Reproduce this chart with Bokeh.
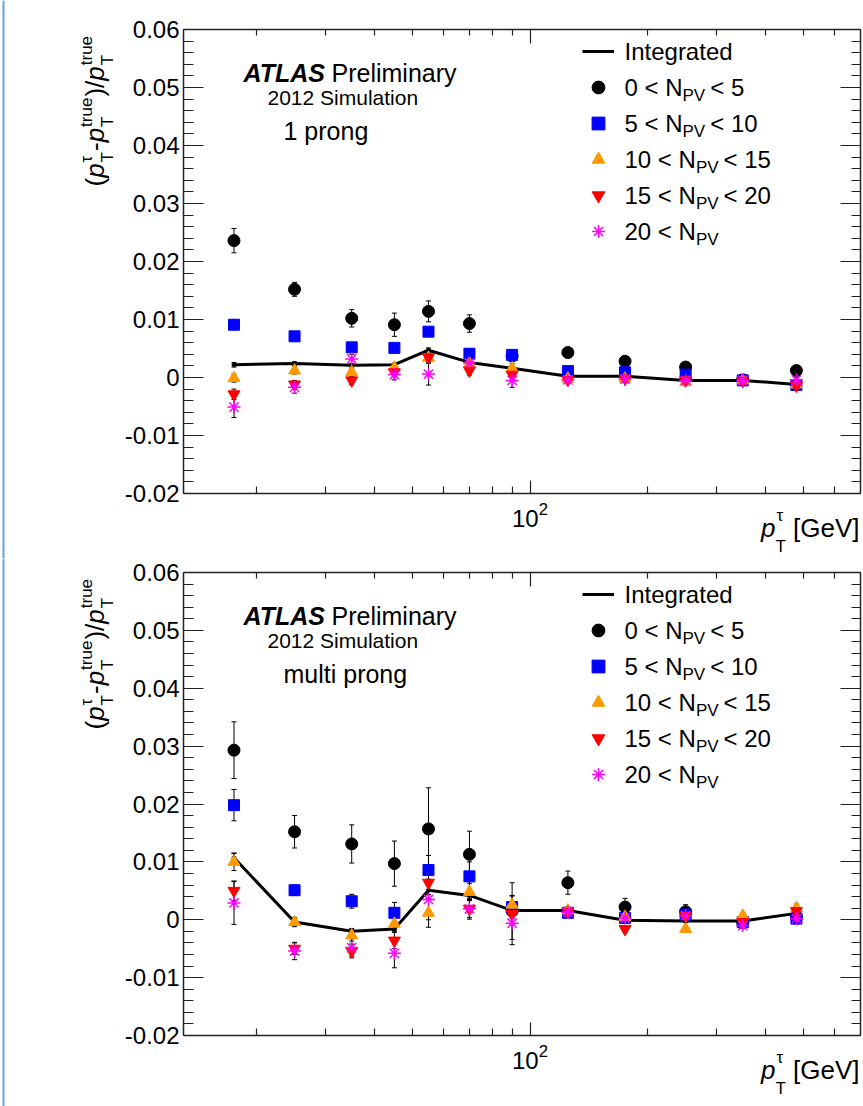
import math
from bokeh.plotting import figure
from bokeh.models import (ColumnDataSource, Whisker, TeeHead, FixedTicker, LinearAxis,
                          LogAxis, Label, Legend, LegendItem, Range1d, Span)
from bokeh.layouts import column
from bokeh.embed import file_html
from bokeh.resources import INLINE

# ---------------- data ----------------
pt_centers = [17.5, 25, 35, 45, 55, 70, 90, 125, 175, 250, 350, 480]

# 1 prong
one_integrated = [0.0022, 0.0024, 0.0021, 0.0022, 0.0047, 0.0026, 0.0016, 0.0002, 0.0002, -0.0005, -0.0005, -0.0012]
one_integrated_err = [0.0004, 0.0003, 0.0003, 0.0003, 0.0004, 0.0004, 0.0004, 0.0002, 0.0002, 0.0001, 0.0001, 0.0002]
one_npv_0_5 = [0.0236, 0.0152, 0.0102, 0.0091, 0.0114, 0.0093, 0.0037, 0.0043, 0.0028, 0.0018, -0.0004, 0.0012]
one_npv_0_5_err = [0.0021, 0.0012, 0.0015, 0.0020, 0.0018, 0.0015, 0.0008, 0.0006, 0.0004, 0.0003, 0.0003, 0.0004]
one_npv_5_10 = [0.0091, 0.0071, 0.0052, 0.0051, 0.0079, 0.0041, 0.0039, 0.0011, 0.0009, 0.0005, -0.0005, -0.0013]
one_npv_5_10_err = [0.0008, 0.0005, 0.0006, 0.0006, 0.0007, 0.0007, 0.0008, 0.0004, 0.0003, 0.0002, 0.0002, 0.0003]
one_npv_10_15 = [-0.0001, 0.0012, 0.0009, 0.0017, 0.0034, 0.0024, 0.0016, -0.0002, -0.0002, -0.0008, -0.0005, -0.0012]
one_npv_10_15_err = [0.0007, 0.0006, 0.0006, 0.0006, 0.0009, 0.0008, 0.0008, 0.0004, 0.0003, 0.0002, 0.0002, 0.0003]
one_npv_15_20 = [-0.0029, -0.0012, -0.0005, 0.0009, 0.0035, 0.0012, 0.0005, -0.0004, -0.0002, -0.0005, -0.0006, -0.0014]
one_npv_15_20_err = [0.0009, 0.0007, 0.0007, 0.0007, 0.0009, 0.0008, 0.0009, 0.0004, 0.0003, 0.0002, 0.0002, 0.0003]
one_npv_20 = [-0.0051, -0.0017, 0.0032, 0.0005, 0.0006, 0.0025, -0.0005, -0.0004, -0.0003, -0.0005, -0.0005, -0.0004]
one_npv_20_err = [0.0018, 0.0010, 0.0008, 0.0009, 0.0019, 0.0010, 0.0012, 0.0005, 0.0004, 0.0003, 0.0003, 0.0004]

# multi prong
multi_integrated = [0.0107, -0.0004, -0.0020, -0.0016, 0.0051, 0.0042, 0.0016, 0.0016, -0.0001, -0.0002, -0.0002, 0.0011]
multi_integrated_err = [0.0008, 0.0005, 0.0005, 0.0005, 0.0008, 0.0007, 0.0008, 0.0004, 0.0003, 0.0003, 0.0003, 0.0004]
multi_npv_0_5 = [0.0293, 0.0152, 0.0131, 0.0097, 0.0157, 0.0113, 0.0015, 0.0064, 0.0022, 0.0014, -0.0005, 0.0005]
multi_npv_0_5_err = [0.0049, 0.0028, 0.0033, 0.0039, 0.0071, 0.0040, 0.0049, 0.0020, 0.0015, 0.0012, 0.0010, 0.0012]
multi_npv_5_10 = [0.0198, 0.0051, 0.0032, 0.0012, 0.0086, 0.0075, 0.0022, 0.0012, 0.0003, 0.0009, -0.0004, 0.0002]
multi_npv_5_10_err = [0.0027, 0.0009, 0.0012, 0.0018, 0.0025, 0.0025, 0.0020, 0.0008, 0.0006, 0.0005, 0.0005, 0.0007]
multi_npv_10_15 = [0.0100, -0.0004, -0.0027, -0.0007, 0.0012, 0.0048, 0.0026, 0.0016, 0.0005, -0.0016, 0.0007, 0.0020]
multi_npv_10_15_err = [0.0015, 0.0008, 0.0010, 0.0012, 0.0025, 0.0015, 0.0015, 0.0007, 0.0006, 0.0005, 0.0005, 0.0007]
multi_npv_15_20 = [0.0050, -0.0050, -0.0054, -0.0036, 0.0064, 0.0019, 0.0010, 0.0014, -0.0016, 0.0007, -0.0004, 0.0015]
multi_npv_15_20_err = [0.0017, 0.0010, 0.0012, 0.0014, 0.0020, 0.0015, 0.0018, 0.0007, 0.0006, 0.0005, 0.0005, 0.0008]
multi_npv_20 = [0.0029, -0.0054, -0.0048, -0.0058, 0.0035, 0.0019, -0.0006, 0.0013, 0.0003, 0.0007, -0.0010, 0.0002]
multi_npv_20_err = [0.0037, 0.0015, 0.0015, 0.0025, 0.0035, 0.0018, 0.0037, 0.0008, 0.0006, 0.0005, 0.0005, 0.0009]

panel_titles = ["1 prong", "multi prong"]
legend_integrated = "Integrated"
legend_pre = ["0 < N", "5 < N", "10 < N", "15 < N", "20 < N"]
legend_sub = "PV"
legend_post = ["< 5", "< 10", "< 15", "< 20", ""]
series_colors = ["#000000", "#0000ff", "#ff9900", "#ff0000", "#ff00ff"]
series_markers = ["circle", "square", "triangle", "inverted_triangle", "asterisk"]

y_ticks = [-0.02, -0.01, 0.0, 0.01, 0.02, 0.03, 0.04, 0.05, 0.06]
y_tick_labels = ["-0.02", "-0.01", "0", "0.01", "0.02", "0.03", "0.04", "0.05", "0.06"]
y_minor_step = 0.002
x_major = [100]
x_minor = [20, 30, 40, 50, 60, 70, 80, 90, 200, 300, 400, 500, 600]
X_RANGE = (13, 700)
Y_RANGE = (-0.02, 0.06)

panel_series = [
    dict(integ=one_integrated, integ_err=one_integrated_err,
         series=[(one_npv_0_5, one_npv_0_5_err), (one_npv_5_10, one_npv_5_10_err),
                 (one_npv_10_15, one_npv_10_15_err), (one_npv_15_20, one_npv_15_20_err),
                 (one_npv_20, one_npv_20_err)]),
    dict(integ=multi_integrated, integ_err=multi_integrated_err,
         series=[(multi_npv_0_5, multi_npv_0_5_err), (multi_npv_5_10, multi_npv_5_10_err),
                 (multi_npv_10_15, multi_npv_10_15_err), (multi_npv_15_20, multi_npv_15_20_err),
                 (multi_npv_20, multi_npv_20_err)]),
]

# ---------------- layout / style ----------------
FONT = "Liberation Sans"
FIG_W = 863
IL, IW = 183, 677            # inner (axes box) left and width, px
panel_geom = [dict(h=558, it=29, ih=464), dict(h=548, it=14, ih=463)]
AXC = "#222222"
MID = 0.35                   # baseline -> middle offset (em)
EDGE_X = 3                   # thin blue page-edge line of the original screenshot

# Arial / Liberation Sans advance widths (em)
CW = {' ': .278, '<': .584, 'N': .722, 'P': .667, 'V': .667, '(': .333, ')': .333, '-': .333,
      '/': .278, 'p': .556, 't': .278, 'r': .333, 'u': .556, 'e': .556, 'T': .611, '\u03c4': .45,
      '[': .278, ']': .278, 'G': .778}
for d in "0123456789":
    CW[d] = .556


def tw(s, size):
    return sum(CW.get(c, .556) for c in s) * size


def style_axis(ax, major_in, minor_in, labels):
    ax.major_tick_in = major_in
    ax.major_tick_out = 0
    ax.minor_tick_in = minor_in
    ax.minor_tick_out = 0
    ax.axis_line_color = AXC
    ax.axis_line_width = 1.5
    ax.major_tick_line_color = AXC
    ax.minor_tick_line_color = AXC
    ax.major_tick_line_width = 1.2
    ax.minor_tick_line_width = 1.2
    if labels:
        ax.major_label_text_font = FONT
        ax.major_label_text_font_size = "24px"
        ax.major_label_text_color = "#000000"
    else:
        ax.major_label_text_font_size = "1px"
        ax.major_label_text_color = None
        ax.major_label_standoff = 0


def make_panel(idx):
    g = panel_geom[idx]
    H, IT, IH = g["h"], g["it"], g["ih"]
    lx0, lx1 = math.log10(X_RANGE[0]), math.log10(X_RANGE[1])
    kx = (lx1 - lx0) / IW
    ky = (Y_RANGE[1] - Y_RANGE[0]) / IH

    def X(px):
        return 10 ** (lx0 + (px - IL) * kx)

    def Y(py):
        return Y_RANGE[1] - (py - IT) * ky

    p = figure(width=FIG_W, height=H, x_axis_type="log",
               x_range=Range1d(X(0), X(FIG_W)), y_range=Range1d(Y(H), Y(0)),
               output_backend="svg", toolbar_location=None,
               min_border=0, min_border_left=0, min_border_right=0,
               min_border_top=0, min_border_bottom=0,
               background_fill_color="white", border_fill_color="white",
               outline_line_color=None)
    p.grid.visible = False

    p.add_layout(Span(location=X(EDGE_X), dimension="height", line_color="#6f9fd6",
                      line_width=2))

    # axes (drawn as a box around the data range)
    y_minor = [round(Y_RANGE[0] + y_minor_step * i, 4)
               for i in range(int(round((Y_RANGE[1] - Y_RANGE[0]) / y_minor_step)) + 1)]
    yl = p.left[0]
    yl.ticker = FixedTicker(ticks=y_ticks, minor_ticks=y_minor)
    yl.major_label_overrides = {v: s for v, s in zip(y_ticks, y_tick_labels)}
    yl.fixed_location = X_RANGE[0]
    yl.bounds = Y_RANGE
    style_axis(yl, 20, 10, True)
    yl.major_label_standoff = 4
    xb = p.below[0]
    xb.ticker = FixedTicker(ticks=x_major, minor_ticks=x_minor)
    xb.fixed_location = Y_RANGE[0]
    xb.bounds = X_RANGE
    style_axis(xb, 13, 7, True)
    xb.major_label_standoff = 8

    yr = LinearAxis(ticker=FixedTicker(ticks=y_ticks, minor_ticks=y_minor),
                    fixed_location=X_RANGE[1], bounds=Y_RANGE)
    style_axis(yr, 20, 9, False)
    p.add_layout(yr, "right")
    xa = LogAxis(ticker=FixedTicker(ticks=x_major, minor_ticks=x_minor),
                 fixed_location=Y_RANGE[1], bounds=X_RANGE)
    style_axis(xa, 14, 6, False)
    p.add_layout(xa, "above")

    data = panel_series[idx]
    integ = data["integ"]
    ierr = data["integ_err"]
    isrc = ColumnDataSource(dict(x=pt_centers, y=integ,
                                 lo=[v - e for v, e in zip(integ, ierr)],
                                 hi=[v + e for v, e in zip(integ, ierr)]))
    r_int = p.line("x", "y", source=isrc, line_color="black", line_width=3)
    p.scatter("x", "y", source=isrc, size=4, color="black")
    p.add_layout(Whisker(source=isrc, base="x", lower="lo", upper="hi", line_color="black",
                         line_width=1,
                         upper_head=TeeHead(size=5, line_color="black", line_width=1),
                         lower_head=TeeHead(size=5, line_color="black", line_width=1)))
    renderers = [r_int]
    sizes = {"circle": 12, "square": 11, "triangle": 12, "inverted_triangle": 12, "asterisk": 13}
    for (vals, errs), col, mk in zip(data["series"], series_colors, series_markers):
        src = ColumnDataSource(dict(x=pt_centers, y=vals,
                                    lo=[v - e for v, e in zip(vals, errs)],
                                    hi=[v + e for v, e in zip(vals, errs)]))
        p.add_layout(Whisker(source=src, base="x", lower="lo", upper="hi", line_color="black",
                             line_width=1,
                             upper_head=TeeHead(size=5, line_color="black", line_width=1),
                             lower_head=TeeHead(size=5, line_color="black", line_width=1)))
        if mk == "asterisk":
            r = p.scatter("x", "y", source=src, marker=mk, size=sizes[mk], line_color=col,
                          line_width=1.5)
        else:
            r = p.scatter("x", "y", source=src, marker=mk, size=sizes[mk], fill_color=col,
                          line_color=col, line_width=1)
        renderers.append(r)

    # legend symbols (texts are drawn as labels below, to allow subscripts)
    row_h = 36
    items = [LegendItem(label=" ", renderers=[r]) for r in renderers]
    leg = Legend(items=items, location=(582, H - (IT + 4 + row_h * len(items))),
                 glyph_width=32, glyph_height=row_h, spacing=0, padding=0, margin=0,
                 label_standoff=0, label_width=2, label_height=row_h,
                 label_text_font_size="4px", background_fill_alpha=0, border_line_alpha=0)
    p.add_layout(leg)

    def lab(px, py, text, size, style="normal", angle=0.0):
        # (px, py): start of the baseline in figure pixels
        if angle == 0.0:
            py = py - MID * size
        else:
            px = px - MID * size
        p.add_layout(Label(x=X(px), y=Y(py), text=text, text_font=FONT,
                           text_font_size=f"{size}px", text_font_style=style,
                           text_align="left", text_baseline="middle",
                           angle=angle, text_color="#000000"))

    # legend texts
    LX = 624
    lab(LX, IT + 30, legend_integrated, 24)
    for i, (pre, post) in enumerate(zip(legend_pre, legend_post)):
        by = IT + 30 + row_h * (i + 1)
        lab(LX, by, pre, 24)
        xs = LX + tw(pre, 24)
        lab(xs, by + 6, legend_sub, 17)
        if post:
            lab(xs + tw(legend_sub, 17) + 5, by, post, 24)

    # ATLAS label
    lab(243, IT + 52, "ATLAS", 25, "bold italic")
    lab(331, IT + 52, "Preliminary", 25)
    lab(267, IT + 75, "2012 Simulation", 21)
    lab(283, IT + 110, panel_titles[idx], 25)

    # x axis title (right aligned to the axes box)
    by = IT + IH + 44
    end = IL + IW - 1
    gev = "[GeV]"
    x_gev = end - tw(gev, 26)
    x_stack = x_gev - tw(" ", 26) - tw("T", 17)
    x_p = x_stack - tw("p", 26)
    lab(x_p, by, "p", 26, "italic")
    lab(x_stack + 1, by - 16, "\u03c4", 17)
    lab(x_stack, by + 15, "T", 17)
    lab(x_gev, by, gev, 26)

    # y axis title (rotated, reads bottom to top)
    b_main, b_sup, b_sub = 104, 92, 113
    start = IT + 157
    ang = math.pi / 2
    s = 0.0

    def seg(text, size, style="normal"):
        lab(b_main, start - s, text, size, style, ang)
        return tw(text, size)

    def stack(sup, sub):
        lab(b_sup, start - s, sup, 17, "normal", ang)
        lab(b_sub, start - s, sub, 17, "normal", ang)
        return max(tw(sup, 17), tw(sub, 17)) + 1

    s += seg("(", 26)
    s += seg("p", 26, "italic") + 1
    s += stack("\u03c4", "T")
    s += seg("-", 26)
    s += seg("p", 26, "italic") + 1
    s += stack("true", "T")
    s += seg(")", 26)
    s += seg("/", 26)
    s += seg("p", 26, "italic") + 1
    stack("true", "T")
    return p


p1 = make_panel(0)
p2 = make_panel(1)
layout = column(p1, p2, spacing=0)
open("out.html", "w").write(file_html(layout, INLINE))
